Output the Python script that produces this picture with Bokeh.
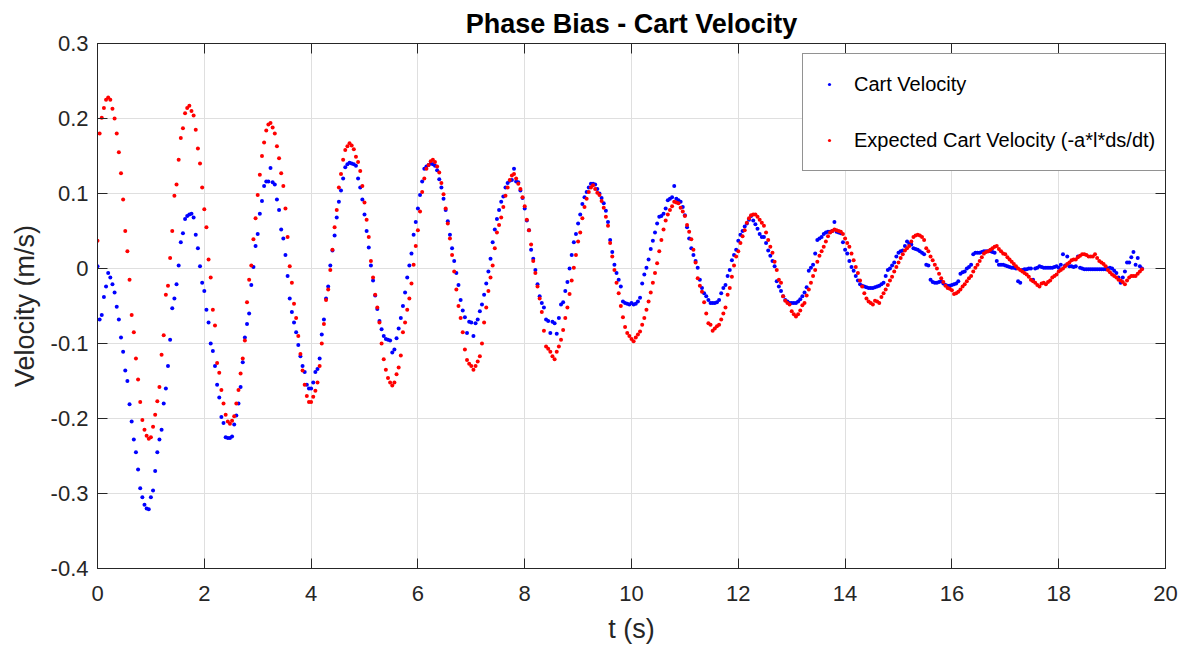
from bokeh.plotting import figure
from bokeh.models import Range1d, FixedTicker, LinearAxis, Legend, LegendItem, ColumnDataSource
from bokeh.embed import file_html
from bokeh.resources import INLINE

# ---------------- data ----------------
T_START = 0.0   # s, first sample
DT = 0.04       # s, sample spacing

cart_velocity = [
    0.003, -0.068, -0.062, -0.038, -0.024, -0.006, -0.012, -0.021, -0.032, -0.051, -0.068, -0.092, -0.111, -0.136, -0.150, -0.181, -0.204, -0.228, -0.245, -0.268, -0.293, -0.305, -0.315, -0.320, -0.321,
    -0.305, -0.296, -0.270, -0.245, -0.228, -0.215, -0.180, -0.160, -0.130, -0.095, -0.053, -0.040, -0.021, 0.004, 0.035, 0.047, 0.066, 0.070, 0.072, 0.073, 0.068, 0.045, 0.027, 0.003, -0.019,
    -0.030, -0.055, -0.072, -0.100, -0.110, -0.130, -0.155, -0.172, -0.198, -0.206, -0.225, -0.226, -0.226, -0.224, -0.208, -0.196, -0.180, -0.158, -0.125, -0.092, -0.074, -0.060, -0.022, 0.002, 0.030,
    0.046, 0.073, 0.090, 0.110, 0.116, 0.116, 0.134, 0.115, 0.112, 0.092, 0.078, 0.052, 0.040, 0.018, -0.010, -0.040, -0.058, -0.072, -0.085, -0.102, -0.117, -0.130, -0.138, -0.155, -0.160,
    -0.160, -0.152, -0.138, -0.134, -0.120, -0.088, -0.068, -0.040, -0.024, 0.004, 0.024, 0.044, 0.068, 0.089, 0.104, 0.120, 0.135, 0.139, 0.141, 0.140, 0.139, 0.137, 0.120, 0.108, 0.092,
    0.072, 0.050, 0.028, 0.004, -0.016, -0.036, -0.054, -0.070, -0.081, -0.090, -0.094, -0.095, -0.096, -0.112, -0.108, -0.093, -0.080, -0.066, -0.050, -0.032, -0.012, 0.004, 0.020, 0.045, 0.062,
    0.080, 0.098, 0.116, 0.133, 0.136, 0.138, 0.140, 0.139, 0.137, 0.131, 0.119, 0.108, 0.093, 0.078, 0.063, 0.045, 0.027, 0.010, -0.006, -0.022, -0.042, -0.056, -0.065, -0.086, -0.071,
    -0.072, -0.090, -0.073, -0.068, -0.057, -0.048, -0.035, -0.020, -0.004, 0.013, 0.035, 0.052, 0.066, 0.078, 0.089, 0.096, 0.108, 0.114, 0.117, 0.118, 0.133, 0.116, 0.115, 0.104, 0.094,
    0.080, 0.064, 0.051, 0.025, 0.013, -0.002, -0.021, -0.037, -0.046, -0.052, -0.068, -0.070, -0.086, -0.071, -0.073, -0.087, -0.066, -0.048, -0.045, -0.030, -0.018, 0.000, 0.018, 0.035, 0.046,
    0.060, 0.072, 0.086, 0.095, 0.102, 0.108, 0.113, 0.113, 0.112, 0.106, 0.100, 0.094, 0.087, 0.077, 0.062, 0.038, 0.022, 0.005, -0.006, -0.015, -0.024, -0.044, -0.046, -0.047, -0.048,
    -0.046, -0.048, -0.047, -0.044, -0.039, -0.020, -0.008, 0.001, 0.012, 0.026, 0.037, 0.048, 0.060, 0.069, 0.070, 0.073, 0.080, 0.091, 0.093, 0.095, 0.110, 0.093, 0.091, 0.089, 0.082,
    0.071, 0.055, 0.040, 0.027, 0.018, 0.010, 0.001, -0.015, -0.026, -0.033, -0.037, -0.042, -0.046, -0.046, -0.046, -0.045, -0.042, -0.033, -0.026, -0.022, -0.010, -0.002, 0.011, 0.018, 0.025,
    0.037, 0.045, 0.050, 0.056, 0.060, 0.065, 0.070, 0.064, 0.059, 0.053, 0.046, 0.042, 0.042, 0.034, 0.024, 0.017, 0.010, 0.003, -0.017, -0.024, -0.030, -0.037, -0.042, -0.044, -0.046,
    -0.046, -0.046, -0.046, -0.044, -0.041, -0.037, -0.032, -0.025, -0.003, 0.001, 0.005, 0.020, 0.038, 0.040, 0.042, 0.046, 0.048, 0.049, 0.049, 0.050, 0.062, 0.049, 0.048, 0.047, 0.035,
    0.025, 0.020, 0.010, 0.002, -0.003, -0.010, -0.016, -0.021, -0.023, -0.024, -0.025, -0.026, -0.026, -0.026, -0.025, -0.024, -0.023, -0.021, -0.019, -0.010, -0.002, 0.000, 0.004, 0.008, 0.016,
    0.021, 0.023, 0.024, 0.030, 0.036, 0.033, 0.032, 0.027, 0.026, 0.025, 0.023, 0.021, 0.019, 0.005, 0.004, -0.015, -0.018, -0.019, -0.019, -0.018, -0.017, -0.020, -0.022, -0.023, -0.023,
    -0.022, -0.021, -0.020, -0.017, -0.007, -0.005, -0.004, 0.000, 0.002, 0.005, 0.019, 0.021, 0.021, 0.021, 0.022, 0.023, 0.023, 0.023, 0.023, 0.022, 0.021, 0.010, 0.005, 0.005, 0.005,
    0.004, 0.003, 0.002, 0.001, 0.001, 0.000, -0.017, -0.019, -0.002, -0.001, -0.001, 0.000, 0.000, -0.015, 0.000, 0.001, 0.003, 0.002, 0.001, 0.001, 0.001, 0.001, 0.001, 0.002, 0.003,
    0.001, 0.005, 0.019, 0.004, 0.016, 0.003, 0.003, 0.002, 0.003, 0.016, 0.001, 0.000, -0.001, -0.001, -0.001, -0.001, -0.001, -0.001, -0.001, -0.001, -0.001, -0.001, -0.001, 0.000, 0.001,
    0.000, -0.003, -0.006, -0.012, -0.019, -0.012, -0.004, 0.008, 0.008, 0.015, 0.022, 0.005, 0.014, 0.003, 0.000,
]

expected_velocity = [
    0.037, 0.180, 0.201, 0.214, 0.225, 0.228, 0.225, 0.213, 0.200, 0.180, 0.155, 0.127, 0.092, 0.050, 0.023, -0.015, -0.062, -0.085, -0.120, -0.148, -0.178, -0.202, -0.215, -0.223, -0.227,
    -0.225, -0.211, -0.195, -0.177, -0.158, -0.115, -0.089, -0.035, -0.023, 0.014, 0.050, 0.097, 0.112, 0.145, 0.174, 0.187, 0.207, 0.214, 0.217, 0.210, 0.204, 0.185, 0.160, 0.140, 0.108,
    0.079, 0.055, 0.012, -0.012, -0.055, -0.076, -0.126, -0.139, -0.162, -0.180, -0.195, -0.204, -0.207, -0.203, -0.197, -0.180, -0.162, -0.140, -0.120, -0.096, -0.045, -0.015, 0.004, 0.039, 0.067,
    0.098, 0.125, 0.150, 0.168, 0.184, 0.192, 0.194, 0.188, 0.180, 0.163, 0.147, 0.127, 0.110, 0.080, 0.042, 0.003, -0.019, -0.047, -0.066, -0.090, -0.114, -0.136, -0.155, -0.170, -0.178,
    -0.178, -0.171, -0.163, -0.152, -0.130, -0.100, -0.074, -0.042, -0.028, -0.002, 0.025, 0.055, 0.078, 0.108, 0.126, 0.145, 0.158, 0.163, 0.167, 0.164, 0.159, 0.149, 0.142, 0.130, 0.110,
    0.088, 0.065, 0.042, 0.010, -0.012, -0.035, -0.052, -0.072, -0.100, -0.121, -0.135, -0.146, -0.152, -0.156, -0.152, -0.141, -0.132, -0.116, -0.085, -0.072, -0.055, -0.040, -0.020, 0.005, 0.030,
    0.051, 0.076, 0.102, 0.120, 0.133, 0.138, 0.143, 0.145, 0.142, 0.136, 0.128, 0.114, 0.099, 0.080, 0.060, 0.040, 0.018, -0.004, -0.028, -0.050, -0.066, -0.085, -0.108, -0.122, -0.127,
    -0.130, -0.135, -0.130, -0.124, -0.117, -0.100, -0.072, -0.052, -0.030, -0.012, 0.004, 0.027, 0.048, 0.058, 0.068, 0.082, 0.097, 0.108, 0.118, 0.124, 0.126, 0.120, 0.113, 0.106, 0.095,
    0.083, 0.065, 0.051, 0.032, 0.010, -0.006, -0.024, -0.040, -0.058, -0.083, -0.104, -0.107, -0.111, -0.117, -0.121, -0.111, -0.104, -0.095, -0.082, -0.066, -0.052, -0.034, -0.016, 0.001, 0.018,
    0.036, 0.048, 0.067, 0.082, 0.093, 0.102, 0.108, 0.111, 0.106, 0.101, 0.098, 0.090, 0.081, 0.069, 0.057, 0.034, 0.016, -0.002, -0.019, -0.033, -0.050, -0.065, -0.078, -0.086, -0.090,
    -0.094, -0.097, -0.092, -0.088, -0.084, -0.075, -0.066, -0.055, -0.044, -0.032, -0.019, -0.006, 0.007, 0.023, 0.038, 0.052, 0.064, 0.072, 0.078, 0.083, 0.089, 0.088, 0.087, 0.081, 0.076,
    0.070, 0.058, 0.049, 0.039, 0.025, 0.008, -0.013, -0.023, -0.031, -0.045, -0.060, -0.073, -0.075, -0.083, -0.080, -0.077, -0.075, -0.068, -0.060, -0.052, -0.035, -0.026, -0.011, 0.004, 0.016,
    0.023, 0.034, 0.043, 0.051, 0.061, 0.067, 0.071, 0.072, 0.072, 0.069, 0.065, 0.061, 0.057, 0.048, 0.038, 0.029, 0.021, 0.009, -0.002, -0.015, -0.019, -0.037, -0.043, -0.046, -0.048,
    -0.057, -0.061, -0.064, -0.061, -0.056, -0.049, -0.046, -0.036, -0.028, -0.019, -0.010, -0.002, 0.009, 0.017, 0.023, 0.029, 0.036, 0.043, 0.048, 0.050, 0.052, 0.051, 0.050, 0.049, 0.046,
    0.040, 0.034, 0.029, 0.020, 0.011, 0.002, -0.006, -0.016, -0.024, -0.033, -0.040, -0.044, -0.046, -0.048, -0.043, -0.044, -0.046, -0.038, -0.033, -0.028, -0.022, -0.016, -0.011, -0.004, 0.002,
    0.008, 0.014, 0.019, 0.024, 0.027, 0.030, 0.036, 0.042, 0.044, 0.045, 0.044, 0.042, 0.038, 0.027, 0.023, 0.016, 0.011, 0.005, 0.000, -0.007, -0.013, -0.018, -0.023, -0.026, -0.027,
    -0.029, -0.034, -0.033, -0.031, -0.028, -0.024, -0.021, -0.017, -0.013, -0.010, -0.004, 0.001, 0.005, 0.010, 0.015, 0.020, 0.022, 0.023, 0.025, 0.027, 0.029, 0.030, 0.026, 0.023, 0.020,
    0.019, 0.015, 0.012, 0.009, 0.006, 0.003, 0.000, -0.002, -0.004, -0.006, -0.008, -0.011, -0.015, -0.017, -0.019, -0.022, -0.024, -0.020, -0.019, -0.021, -0.018, -0.016, -0.012, -0.010, -0.008,
    -0.004, -0.002, 0.000, 0.003, 0.006, 0.008, 0.011, 0.012, 0.012, 0.015, 0.017, 0.019, 0.019, 0.018, 0.016, 0.016, 0.016, 0.019, 0.014, 0.010, 0.008, 0.006, 0.003, -0.002, -0.005,
    -0.008, -0.010, -0.012, -0.015, -0.016, -0.018, -0.021, -0.016, -0.012, -0.010, -0.010, -0.010, -0.007, -0.004, -0.001,
]

x_ticks = [0, 2, 4, 6, 8, 10, 12, 14, 16, 18, 20]
y_ticks = [-0.4, -0.3, -0.2, -0.1, 0.0, 0.1, 0.2, 0.3]
y_tick_labels = ["-0.4", "-0.3", "-0.2", "-0.1", "0", "0.1", "0.2", "0.3"]

TITLE = "Phase Bias - Cart Velocity"
X_LABEL = "t (s)"
Y_LABEL = "Velocity (m/s)"
LABEL_BLUE = "Cart Velocity"
LABEL_RED = "Expected Cart Velocity (-a*l*ds/dt)"

# ---------------- build ----------------
t_blue = [round(T_START + i * DT, 4) for i in range(len(cart_velocity))]
t_red = [round(T_START + i * DT, 4) for i in range(len(expected_velocity))]

FONT = "Liberation Sans"
AX = "#262626"

p = figure(width=1188, height=646, output_backend="svg", toolbar_location=None,
           x_range=Range1d(0, 20), y_range=Range1d(-0.4, 0.3),
           min_border_left=97, min_border_right=23, min_border_top=43, min_border_bottom=76)
p.background_fill_color = "white"
p.border_fill_color = "white"
p.outline_line_color = AX
p.outline_line_width = 1

p.title.text = TITLE
p.title.align = "center"
p.title.text_font = FONT
p.title.text_font_size = "27px"
p.title.text_font_style = "bold"
p.title.text_color = "black"
p.title.standoff = 10

xt = FixedTicker(ticks=x_ticks)
yt = FixedTicker(ticks=y_ticks)

xa = p.xaxis[0]
ya = p.yaxis[0]
xa.ticker = xt
ya.ticker = yt
ya.major_label_overrides = {v: s for v, s in zip(y_ticks, y_tick_labels)}
xa.axis_label = X_LABEL
ya.axis_label = Y_LABEL
for ax in (xa, ya):
    ax.axis_line_color = AX
    ax.major_tick_line_color = AX
    ax.major_tick_in = 10
    ax.major_tick_out = 0
    ax.minor_tick_line_color = None
    ax.major_label_text_font = FONT
    ax.major_label_text_font_size = "22px"
    ax.major_label_text_color = AX
    ax.axis_label_text_font = FONT
    ax.axis_label_text_font_size = "27px"
    ax.axis_label_text_font_style = "normal"
    ax.axis_label_text_color = AX
xa.major_label_standoff = 17
xa.axis_label_standoff = 10
ya.major_label_standoff = 9
ya.axis_label_standoff = 8

# mirrored axes (inward ticks on top and right, labels not drawn)
for loc, tk in (("above", xt), ("right", yt)):
    ax = LinearAxis(ticker=tk)
    ax.axis_line_color = AX
    ax.major_tick_line_color = AX
    ax.major_tick_in = 10
    ax.major_tick_out = 0
    ax.minor_tick_line_color = None
    ax.major_label_text_font_size = "0px"
    ax.major_label_text_color = None
    ax.major_label_standoff = 0
    p.add_layout(ax, loc)

p.xgrid.ticker = xt
p.ygrid.ticker = yt
p.xgrid.grid_line_color = "#dfdfdf"
p.ygrid.grid_line_color = "#dfdfdf"

src_b = ColumnDataSource(dict(t=t_blue, v=cart_velocity))
src_r = ColumnDataSource(dict(t=t_red, v=expected_velocity))
rb = p.scatter("t", "v", source=src_b, size=4, color="#0000ff", line_color=None)
rr = p.scatter("t", "v", source=src_r, size=4, color="#ff0000", line_color=None)

legend = Legend(items=[LegendItem(label=LABEL_BLUE, renderers=[rb]),
                       LegendItem(label=LABEL_RED, renderers=[rr])],
                location=(705, 397))
legend.label_text_font = FONT
legend.label_text_font_size = "20px"
legend.label_text_color = "black"
legend.label_height = 40
legend.glyph_height = 8
legend.glyph_width = 32
legend.label_standoff = 9
legend.spacing = 16
legend.padding = 10
legend.margin = 0
legend.border_line_color = AX
legend.border_line_width = 1
legend.background_fill_color = "white"
legend.background_fill_alpha = 1
p.add_layout(legend)

open("out.html", "w").write(file_html(p, INLINE))
